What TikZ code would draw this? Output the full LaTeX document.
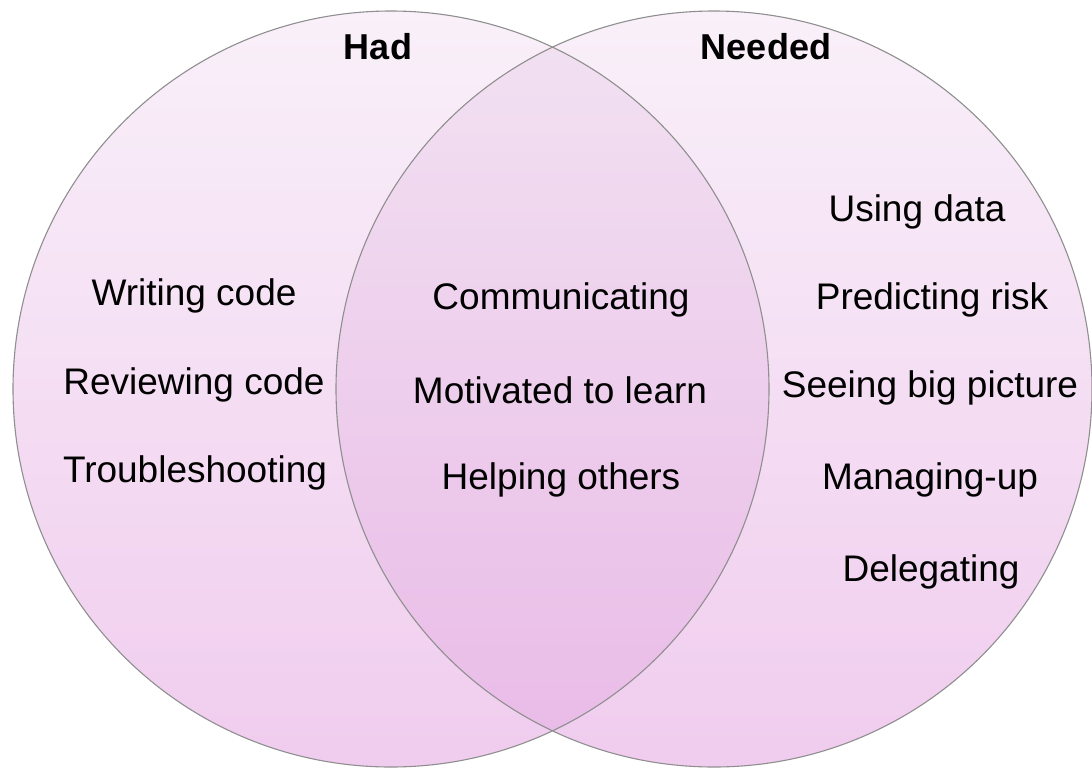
\documentclass[tikz,border=0pt]{standalone}
\usepackage{fontspec}
\setmainfont{Liberation Sans}
\begin{document}
\begin{tikzpicture}[x=1pt,y=-1pt,
  item/.style={inner sep=0pt,font=\fontsize{37}{44}\selectfont},
  head/.style={inner sep=0pt,font=\fontsize{36}{43}\selectfont\bfseries},
  rim/.style={draw=gray!75!black!70,line width=1.1pt}]
\definecolor{solotop}{RGB}{249,240,249}
\definecolor{solobot}{RGB}{240,204,238}
\definecolor{bothtop}{RGB}{242,226,242}
\definecolor{bothbot}{RGB}{233,186,231}
\useasboundingbox (0,0) rectangle (1092,769);
% the two sets
\coordinate (cl) at (391,389);
\coordinate (cr) at (714,389);
\shade[top color=solotop,bottom color=solobot] (cl) circle (378);
\shade[top color=solotop,bottom color=solobot] (cr) circle (378);
% shared lens
\begin{scope}
  \clip (cl) circle (378);
  \shade[top color=bothtop,bottom color=bothbot] (cr) circle (378);
\end{scope}
\draw[rim] (cl) circle (378);
\draw[rim] (cr) circle (378);
% headings
\node[head] (had) at (378,47) {Had};
\node[head] (needed) at (766,47) {Needed};
% left set only
\node[item] (w1) at (194,296) {Writing code};
\node[item] (w2) at (194,385) {Reviewing code};
\node[item] (w3) at (195,473) {Troubleshooting};
% both sets
\node[item] (b1) at (561,300) {Communicating};
\node[item] (b2) at (560,390) {Motivated to learn};
\node[item] (b3) at (561,480) {Helping others};
% right set only
\node[item] (n1) at (917,212) {Using data};
\node[item] (n2) at (932,300) {Predicting risk};
\node[item] (n3) at (930,388) {Seeing big picture};
\node[item] (n4) at (930,480) {Managing-up};
\node[item] (n5) at (931,572) {Delegating};
\end{tikzpicture}
\end{document}
